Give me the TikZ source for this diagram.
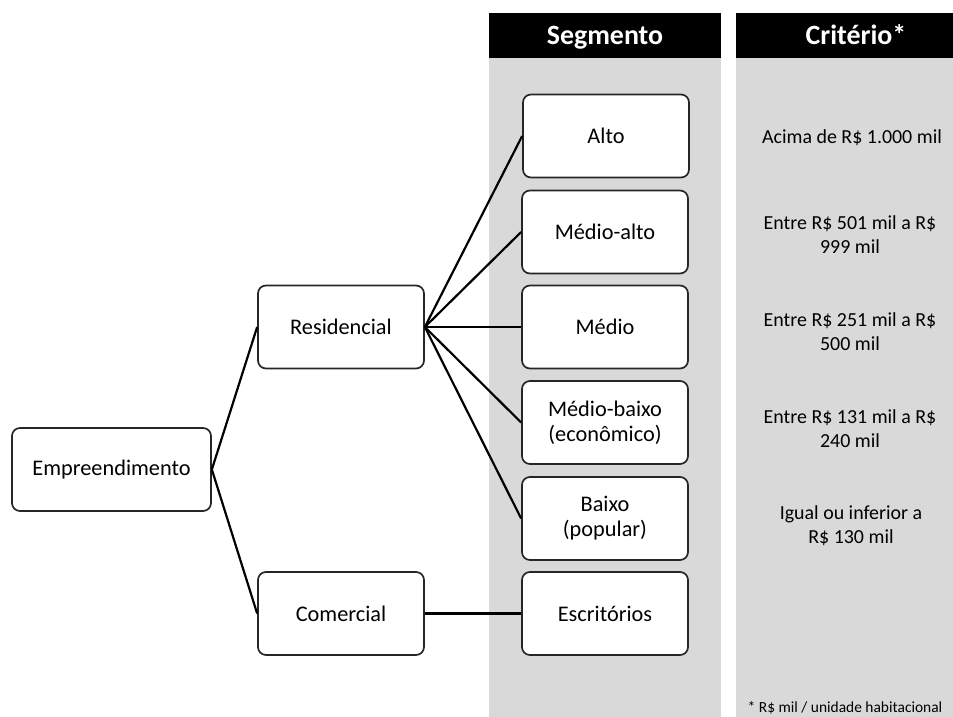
\documentclass[tikz,border=0pt]{standalone}
\usepackage{fontspec}
\setmainfont{Carlito}
\definecolor{colgray}{HTML}{D9D9D9}
\begin{document}
\begin{tikzpicture}[x=1bp,y=-1bp,
  box/.style={draw=black!85, line width=1.7pt, rounded corners=8pt, fill=white,
    minimum width=166bp, minimum height=83bp, align=center, inner sep=0pt,
    font=\fontsize{22.4}{25}\selectfont},
  conn/.style={line width=2.2pt, black},
  head/.style={text=white, anchor=base, font=\bfseries\fontsize{28}{30}\selectfont},
  crit/.style={align=center, font=\fontsize{20}{24}\selectfont, inner sep=0pt}]
\useasboundingbox (0,0) rectangle (953,717);
% columns
\fill[colgray] (489,58) rectangle (721,717);
\fill[colgray] (736,58) rectangle (953,717);
\fill[black] (489,13) rectangle (721,58);
\fill[black] (736,13) rectangle (953,58);
\node[head] (hseg) at (605,45) {Segmento};
\node[head] (hcrit) at (856,45) {Critério*};
% boxes
\node[box, minimum width=199bp] (emp) at (111.5,469.5) {Empreendimento};
\node[box] (res) at (341,327) {Residencial};
\node[box] (com) at (341,613.5) {Comercial};
\node[box] (alto) at (606,136) {Alto};
\node[box] (malto) at (605,232) {Médio-alto};
\node[box] (medio) at (605,327) {Médio};
\node[box] (mbaixo) at (605,422.5) {Médio-baixo\\(econômico)};
\node[box] (baixo) at (605,518.5) {Baixo\\(popular)};
\node[box] (escr) at (605,613.5) {Escritórios};
% connectors
\begin{scope}[on background layer/.try]
\end{scope}
\draw[conn] (emp.east) -- (res.west);
\draw[conn] (emp.east) -- (com.west);
\foreach \t in {alto,malto,medio,mbaixo,baixo}
  \draw[conn] (res.east) -- (\t.west);
\draw[conn] (com.east) -- (escr.west);
% criteria
\node[crit] (c1) at (852,138) {Acima de R\$ 1.000 mil};
\node[crit] (c2) at (850,235) {Entre R\$ 501 mil a R\$\\999 mil};
\node[crit] (c3) at (850,332) {Entre R\$ 251 mil a R\$\\500 mil};
\node[crit] (c4) at (850,429) {Entre R\$ 131 mil a R\$\\240 mil};
\node[crit] (c5) at (851,526) {Igual ou inferior a\\R\$ 130 mil};
\node[anchor=base, inner sep=0pt, font=\fontsize{15.5}{18}\selectfont] (foot) at (845,712) {* R\$ mil / unidade habitacional};
\end{tikzpicture}
\end{document}
